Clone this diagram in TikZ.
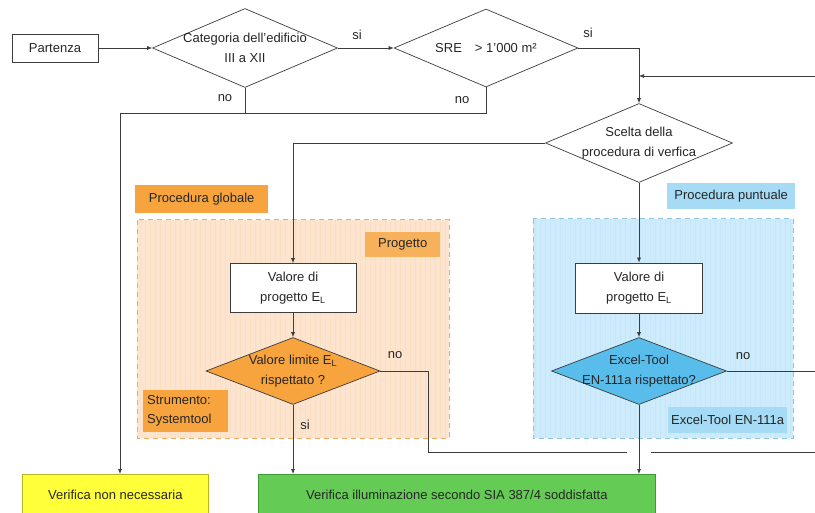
\documentclass[tikz,border=0pt]{standalone}
\usepackage{fontspec}
\setmainfont{Liberation Sans}
\usetikzlibrary{shapes.geometric,arrows.meta}
\definecolor{lineg}{HTML}{3C3C3C}
\definecolor{orangedark}{HTML}{F7A43E}
\definecolor{orangelight}{HTML}{FDE4CE}
\definecolor{orangeedge}{HTML}{EFAA62}
\definecolor{bluedark}{HTML}{58BDEB}
\definecolor{bluemid}{HTML}{A5DBF5}
\definecolor{bluelight}{HTML}{CDEBFA}
\definecolor{blueedge}{HTML}{8BC3E2}
\definecolor{yellowbox}{HTML}{FFFF3A}
\definecolor{yellowedge}{HTML}{BDB520}
\definecolor{greenbox}{HTML}{64CC54}
\definecolor{greenedge}{HTML}{3D9A35}

\begin{document}
\begin{tikzpicture}[x=1pt,y=-1pt,
  every node/.style={font=\fontsize{13}{20}\selectfont,text=black!85,inner sep=0pt},
  line/.style={draw=lineg,line width=0.7pt},
  arrow/.style={line,-{Latex[length=5pt,width=4pt]}},
  box/.style={draw=lineg,line width=0.7pt,fill=white,align=center},
  choice/.style={diamond,draw=lineg,line width=0.7pt,fill=white,align=center,shape aspect=2.6,inner sep=-9pt},
  tag/.style={anchor=north west,align=center},
  zone/.style={line width=1pt,dash pattern=on 5pt off 4pt}]
\clip (0,0) rectangle (815,513);
\fill[white] (0,0) rectangle (815,513);

% zones
\fill[orangelight] (137,220) rectangle (449,438);
\draw[orangelight!92!orangedark,step=5,line width=0.2pt] (137,220) grid (449,438);
\draw[zone,draw=orangeedge] (137,220) rectangle (449,438);
\fill[bluelight] (533,219) rectangle (793,438);
\draw[bluelight!92!bluedark,step=5,line width=0.2pt] (533,219) grid (793,438);
\draw[zone,draw=blueedge] (533,219) rectangle (793,438);
\node[tag,fill=orangedark,minimum width=133,minimum height=28] (globale) at (135,185) {Procedura globale};
\node[tag,fill=orangedark!80!orangelight,minimum width=75,minimum height=25] (project) at (365,232) {Progetto};
\node[tag,fill=orangedark,text width=77,align=left,inner xsep=4pt,minimum height=42] (tool) at (143,390) {Strumento:\\[-1pt]Systemtool};
\node[tag,fill=bluemid,minimum width=128,minimum height=26] (puntuale) at (667,183) {Procedura puntuale};
\node[tag,fill=bluemid,minimum width=119,minimum height=26] (exceltool) at (668,407) {Excel-Tool EN-111a};

% nodes
\node[box,minimum width=86,minimum height=28] (start) at (55,48) {Partenza};
\node[choice,minimum width=185,minimum height=79] (category) at (245,48) {Categoria dell'edificio\\III a XII};
\node[choice,minimum width=184,minimum height=78] (sre) at (486,48) {SRE\quad> 1'000 m²};
\node[choice,minimum width=187,minimum height=79] (method) at (639,143) {Scelta della\\procedura di verfica};
\node[box,minimum width=126,minimum height=49] (designg) at (293,288) {Valore di\\progetto E\textsubscript{L}};
\node[choice,fill=orangedark,minimum width=174,minimum height=67] (limitg) at (293,371) {Valore limite E\textsubscript{L}\\rispettato ?};
\node[box,minimum width=127,minimum height=50] (designp) at (639,288) {Valore di\\progetto E\textsubscript{L}};
\node[choice,fill=bluedark,minimum width=175,minimum height=67] (limitp) at (639,371) {Excel-Tool\\EN-111a rispettato?};
\node[draw=yellowedge,line width=0.8pt,fill=yellowbox,minimum width=186,minimum height=40,anchor=north west] (notneeded) at (22,474) {Verifica non necessaria};
\node[draw=greenedge,line width=0.8pt,fill=greenbox,minimum width=397,minimum height=40,anchor=north west] (verified) at (258,474) {Verifica illuminazione secondo SIA 387/4 soddisfatta};

% connectors
\coordinate (loopin) at (815,76);
\coordinate (nojoin) at (120,113);
\coordinate (nocorner) at (428,452);
\coordinate (hopleft) at (627,452);
\coordinate (hopright) at (651,452);
\coordinate (loopout) at (815,452);
\draw[arrow] (start) -- (category);
\draw[arrow] (category) -- (sre);
\node at (357,35) {si};
\draw[arrow] (sre.east) -| (method.north);
\node at (588,33) {si};
\draw[arrow] (loopin) -- (loopin -| method.north);
\draw[line] (category.south) |- (nojoin);
\draw[line] (sre.south) |- (category.south |- nojoin);
\node at (225,98) {no};
\node at (462,100) {no};
\draw[arrow] (nojoin) -- (nojoin |- notneeded.north);
\draw[arrow] (method.west) -| (designg.north);
\draw[arrow] (method.south) -- (designp.north);
\draw[arrow] (designg) -- (limitg);
\draw[arrow] (designp) -- (limitp);
\draw[arrow] (limitg.south) -- (limitg.south |- verified.north);
\node at (305,425) {si};
\draw[arrow] (limitp.south) -- (limitp.south |- verified.north);
\draw[line] (limitg.east) -| (nocorner) -- (hopleft);
\draw[line] (hopright) -- (loopout);
\node at (395,355) {no};
\draw[line] (limitp.east) -- (limitp.east -| loopout);
\node at (743,356) {no};
\end{tikzpicture}
\end{document}
